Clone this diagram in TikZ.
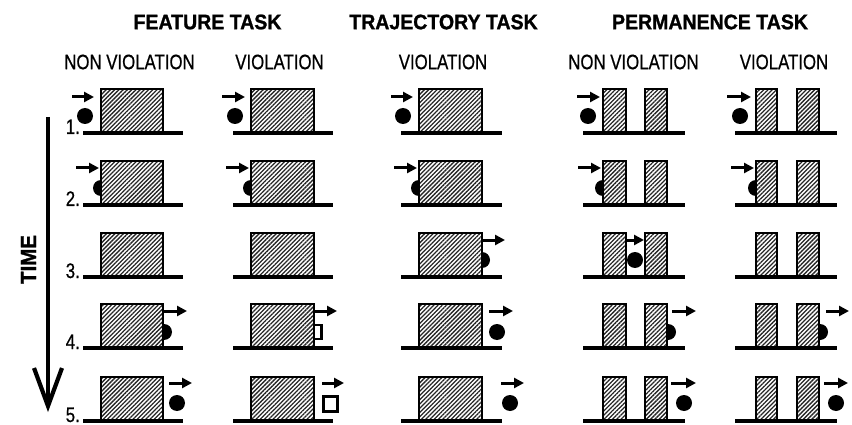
\documentclass[tikz,border=0pt]{standalone}
\usepackage{fontspec}
\setmainfont{Liberation Sans}
\newfontfamily\condbold[FakeStretch=0.93,FakeBold=1.2]{Liberation Sans Bold}
\newfontfamily\condmed[FakeStretch=0.80,FakeBold=0.6]{Liberation Sans}
\usetikzlibrary{patterns.meta,arrows.meta}
\tikzset{
  hatchbox/.style={draw=black, line width=2.4pt, preaction={fill=white},
    pattern={Lines[angle=45,distance=3pt,line width=1.3pt]}, pattern color=black!85},
  ground/.style={line width=4pt},
  ballst/.style={fill=black},
  sqst/.style={draw=black, line width=2.4pt, fill=white},
  motion/.style={line width=3pt, -{Triangle[length=10pt,width=10pt]}},
  hdr/.style={font=\condbold\fontsize{21}{21}\selectfont, inner sep=0pt},
  sub/.style={font=\condmed\fontsize{21}{21}\selectfont, inner sep=0pt},
  num/.style={font=\condmed\fontsize{21}{21}\selectfont, inner sep=0pt, anchor=base east},
}
% helpers
\newcommand\blockbox[3]{\draw[hatchbox] (#1,#3) rectangle (#2,#3-44);}
\newcommand\twopillars[5]{\draw[hatchbox] (#1,#5) rectangle (#2,#5-44);
  \draw[hatchbox] (#3,#5) rectangle (#4,#5-44);}
\newcommand\grnd[3]{\draw[ground] (#1,#3) -- (#2,#3);}
\newcommand\ballat[2]{\fill[ballst] (#1,#2) circle (8);}
\newcommand\mvarrow[3]{\draw[motion] (#1,#3) -- (#2,#3);}
\begin{document}
\begin{tikzpicture}[x=1pt,y=-1pt]
\useasboundingbox (0,0) rectangle (852,425);

% headers
\node[hdr] (hF) at (207.5,22) {FEATURE TASK};
\node[hdr] (hT) at (443.5,22) {TRAJECTORY TASK};
\node[hdr] (hP) at (710,22) {PERMANENCE TASK};
\node[sub] (s1) at (129.5,62) {NON VIOLATION};
\node[sub] (s2) at (279.5,62) {VIOLATION};
\node[sub] (s3) at (443,62) {VIOLATION};
\node[sub] (s4) at (633.5,62) {NON VIOLATION};
\node[sub] (s5) at (784,62) {VIOLATION};

% time arrow
\coordinate (tTop) at (48,117);
\coordinate (tBot) at (48,406);
\draw[line width=4.2pt] (tTop) -- (tBot);
\draw[line width=4.2pt, line join=miter] (34,368) -- (tBot) -- (62,368);
\node[hdr, rotate=90, font=\condbold\fontsize{22}{22}\selectfont] (tm) at (28.5,259.5) {TIME};

% row numbers
\node[num] (n1) at (80,134) {1.};
\node[num] (n2) at (80,206) {2.};
\node[num] (n3) at (80,278) {3.};
\node[num] (n4) at (80,349) {4.};
\node[num] (n5) at (80,422) {5.};

% ===== Row 1 (y=133)
\ballat{85}{116}\mvarrow{72}{94}{97}
\blockbox{101}{163}{133}\grnd{83}{183}{133}
\ballat{235}{116}\mvarrow{222}{245}{97}
\blockbox{251}{314}{133}\grnd{233}{333}{133}
\ballat{403}{116}\mvarrow{391}{413}{97}
\blockbox{419}{482}{133}\grnd{401}{502}{133}
\ballat{588}{116}\mvarrow{577}{600}{97}
\twopillars{603}{626}{645}{667}{133}\grnd{583}{685}{133}
\ballat{740}{116}\mvarrow{727}{751}{97}
\twopillars{756}{777}{797}{819}{133}\grnd{735}{837}{133}

% ===== Row 2 (y=205)
\ballat{101}{188}\mvarrow{76}{99}{168}
\blockbox{101}{163}{205}\grnd{83}{183}{205}
\ballat{251}{188}\mvarrow{226}{249}{168}
\blockbox{251}{314}{205}\grnd{233}{333}{205}
\ballat{419}{188}\mvarrow{394}{417}{168}
\blockbox{419}{482}{205}\grnd{401}{502}{205}
\ballat{603}{188}\mvarrow{578}{601}{168}
\twopillars{603}{626}{645}{667}{205}\grnd{583}{685}{205}
\ballat{756}{188}\mvarrow{731}{754}{168}
\twopillars{756}{777}{797}{819}{205}\grnd{735}{837}{205}

% ===== Row 3 (y=277)
\blockbox{101}{163}{277}\grnd{83}{183}{277}
\blockbox{251}{314}{277}\grnd{233}{333}{277}
\ballat{482}{260}\mvarrow{482}{505}{240}
\blockbox{419}{482}{277}\grnd{401}{502}{277}
\ballat{635}{260}\mvarrow{627}{644}{240}
\twopillars{603}{626}{645}{667}{277}\grnd{583}{685}{277}
\twopillars{756}{777}{797}{819}{277}\grnd{735}{837}{277}

% ===== Row 4 (y=348)
\ballat{164}{332}\mvarrow{164}{187}{311}
\blockbox{101}{163}{348}\grnd{83}{183}{348}
\draw[sqst] (307.5,325) rectangle (321.5,339);\mvarrow{315}{337}{311}
\blockbox{251}{314}{348}\grnd{233}{333}{348}
\ballat{497}{332}\mvarrow{489}{513}{311}
\blockbox{419}{482}{348}\grnd{401}{502}{348}
\ballat{668}{332}\mvarrow{672}{696}{311}
\twopillars{603}{626}{645}{667}{348}\grnd{583}{685}{348}
\ballat{820}{332}\mvarrow{826}{849}{311}
\twopillars{756}{777}{797}{819}{348}\grnd{735}{837}{348}

% ===== Row 5 (y=421)
\ballat{177}{403}\mvarrow{169}{192}{383}
\blockbox{101}{163}{421}\grnd{83}{183}{421}
\draw[sqst] (323.5,396.5) rectangle (337.5,411.5);\mvarrow{322}{344}{383}
\blockbox{251}{314}{421}\grnd{233}{333}{421}
\ballat{510}{403}\mvarrow{501}{524}{383}
\blockbox{419}{482}{421}\grnd{401}{502}{421}
\ballat{684}{403}\mvarrow{671}{696}{383}
\twopillars{603}{626}{645}{667}{421}\grnd{583}{685}{421}
\ballat{836}{403}\mvarrow{824}{848}{383}
\twopillars{756}{777}{797}{819}{421}\grnd{735}{837}{421}
\end{tikzpicture}
\end{document}
